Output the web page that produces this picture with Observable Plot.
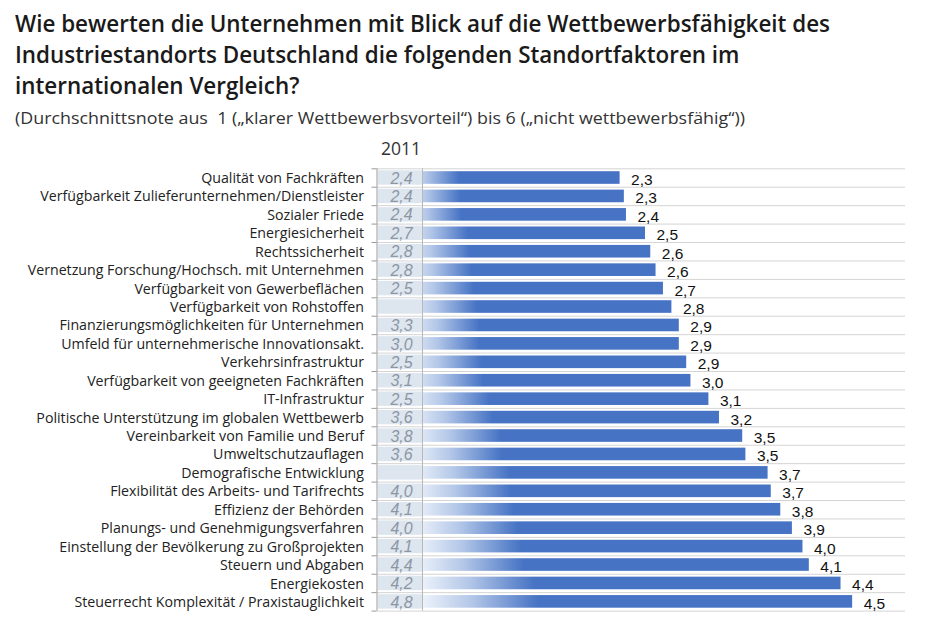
<!DOCTYPE html>
<html><head><meta charset="utf-8">
<script src="https://cdn.jsdelivr.net/npm/d3@7"></script>
<script src="https://cdn.jsdelivr.net/npm/@observablehq/plot@0.6"></script>
<style>
html,body{margin:0;padding:0;background:#fff;width:925px;height:620px;overflow:hidden}
#wrap{position:relative;width:925px;height:620px}
.ln{position:absolute;left:15px;white-space:nowrap;transform-origin:0 50%}
.t{font-family:'Open Sans',sans-serif;font-weight:600;font-size:24px;line-height:30px;color:#1a1a1a}
.s{font-family:'Open Sans',sans-serif;font-size:16px;line-height:22px;color:#333}
#year{position:absolute;z-index:2;left:378px;width:46px;text-align:center;top:137px;font-family:'Open Sans',sans-serif;font-size:17.5px;line-height:22px;color:#333}
#chart{position:absolute;z-index:1;left:0;top:140px}
</style></head>
<body><div id="wrap">
<div class="ln t" id="t1" style="top:8px"><span>Wie bewerten die Unternehmen mit Blick auf die Wettbewerbsfähigkeit des</span></div>
<div class="ln t" id="t2" style="top:39px"><span>Industriestandorts Deutschland die folgenden Standortfaktoren im</span></div>
<div class="ln t" id="t3" style="top:70px"><span>internationalen Vergleich?</span></div>
<div class="ln s" id="sub" style="top:107px"><span>(Durchschnittsnote aus&nbsp; 1 („klarer Wettbewerbsvorteil“) bis 6 („nicht wettbewerbsfähig“))</span></div>
<div id="chart"></div>
<div id="year">2011</div>
</div>
<script>
const categories = [
  "Qualität von Fachkräften",
  "Verfügbarkeit Zulieferunternehmen/Dienstleister",
  "Sozialer Friede",
  "Energiesicherheit",
  "Rechtssicherheit",
  "Vernetzung Forschung/Hochsch. mit Unternehmen",
  "Verfügbarkeit von Gewerbeflächen",
  "Verfügbarkeit von Rohstoffen",
  "Finanzierungsmöglichkeiten für Unternehmen",
  "Umfeld für unternehmerische Innovationsakt.",
  "Verkehrsinfrastruktur",
  "Verfügbarkeit von geeigneten Fachkräften",
  "IT-Infrastruktur",
  "Politische Unterstützung im globalen Wettbewerb",
  "Vereinbarkeit von Familie und Beruf",
  "Umweltschutzauflagen",
  "Demografische Entwicklung",
  "Flexibilität des Arbeits- und Tarifrechts",
  "Effizienz der Behörden",
  "Planungs- und Genehmigungsverfahren",
  "Einstellung der Bevölkerung zu Großprojekten",
  "Steuern und Abgaben",
  "Energiekosten",
  "Steuerrecht Komplexität / Praxistauglichkeit"
];
// current average grade (bar length; label shown rounded to one decimal)
const values = [2.30, 2.34, 2.36, 2.54, 2.59, 2.64, 2.71, 2.79, 2.86, 2.86, 2.93, 2.97,
                3.14, 3.24, 3.46, 3.49, 3.70, 3.73, 3.82, 3.93, 4.03, 4.09, 4.39, 4.50];
// comparison column 2011
const values2011 = [2.4, 2.4, 2.4, 2.7, 2.8, 2.8, 2.5, null, 3.3, 3.0, 2.5, 3.1,
                    2.5, 3.6, 3.8, 3.6, null, 4.0, 4.1, 4.0, 4.1, 4.4, 4.2, 4.8];

const rows = categories.map((name, i) => ({name, value: values[i], v2011: values2011[i]}));
const fmt = v => v.toFixed(1).replace(".", ",");

const H = 480, MT = 28.3, MB = 9.4;
const pitch = (H - MT - MB) / categories.length;
const FONT = "'Open Sans', sans-serif";
const NUMFONT = "'Liberation Sans', Arial, sans-serif";

const svg = Plot.plot({
  width: 925, height: H,
  marginLeft: 376.5, marginRight: 20, marginTop: MT, marginBottom: MB,
  x: {domain: [0, 5], axis: null},
  y: {domain: categories, axis: null, padding: 0, round: false},
  style: {fontFamily: FONT, background: "transparent", overflow: "visible"},
  marks: [
    Plot.ruleY(rows, {y: "name", dy: pitch / 2, stroke: "#d4d4d4"}),
    Plot.ruleY(rows.slice(0, 1), {y: "name", dy: -pitch / 2, stroke: "#d4d4d4"}),
    Plot.barX(rows, {y: "name", x: "value", fill: "url(#barGrad)", insetTop: 2.9, insetBottom: 2.9}),
    Plot.barX(rows, {y: "name", x1: 0, x2: 0, insetLeft: 1.5, insetRight: -45.5, insetTop: 2, insetBottom: 2, fill: "#dde5ef"}),
    Plot.ruleX([0], {dx: 45.5, stroke: "#b8b8b8"}),
    Plot.ruleX([0], {stroke: "#9a9a9a"}),
    Plot.ruleY(rows, {y: "name", dy: pitch / 2, x1: 0, x2: 0, insetLeft: -5, stroke: "#9a9a9a"}),
    Plot.ruleY(rows.slice(0, 1), {y: "name", dy: -pitch / 2, x1: 0, x2: 0, insetLeft: -5, stroke: "#9a9a9a"}),
    Plot.text(rows, {y: "name", text: "name", frameAnchor: "left", textAnchor: "end", dx: -13, dy: 0.5, fontSize: 14.2, fill: "#222"}),
    Plot.text(rows.filter(d => d.v2011 != null), {y: "name", x: 0, text: d => fmt(d.v2011), dx: 24.5, dy: 0.5, textAnchor: "middle", fontStyle: "italic", fontSize: 16, fontFamily: NUMFONT, fill: "#8d96a3"}),
    Plot.text(rows, {y: "name", x: "value", text: d => fmt(d.value), textAnchor: "start", dx: 11, dy: 2, fontSize: 15.5, fontFamily: NUMFONT, fill: "#111"})
  ]
});

const defs = d3.select(svg).insert("defs", ":first-child");
const g = defs.append("linearGradient").attr("id", "barGrad").attr("x1", 0).attr("x2", 1).attr("y1", 0).attr("y2", 0);
[[0, "#ffffff"], [0.08, "#f6f9fd"], [0.2, "#b3c7e8"], [0.34, "#4673c4"], [1, "#4673c4"]]
  .forEach(([o, c]) => g.append("stop").attr("offset", o).attr("stop-color", c));

document.getElementById("chart").appendChild(svg);

// fit header lines to reference widths
function fit(id, target) {
  const el = document.getElementById(id);
  const w = el.firstElementChild.getBoundingClientRect().width;
  return target / w;
}
const k = fit("t1", 815);
["t1", "t2", "t3"].forEach(id => document.getElementById(id).style.transform = `scaleX(${k})`);
const ks = fit("sub", 730);
document.getElementById("sub").style.transform = `scaleX(${ks})`;
</script>
</body></html>
